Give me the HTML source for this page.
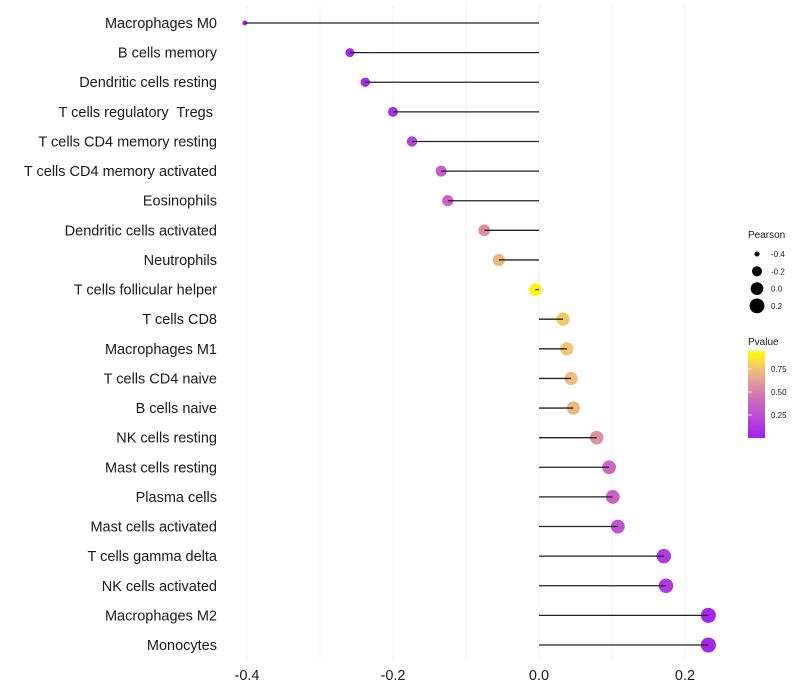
<!DOCTYPE html>
<html><head><meta charset="utf-8"><style>
body{margin:0;background:#fff;font-family:"Liberation Sans",sans-serif}
svg{display:block}
text{white-space:pre}
</style></head><body>
<svg id="chart" width="800" height="700">
<defs><linearGradient id="pg" x1="0" y1="1" x2="0" y2="0">
<stop offset="0" stop-color="#A020F0"/><stop offset="0.5" stop-color="#D477B8"/><stop offset="0.78" stop-color="#F0BE7A"/><stop offset="1" stop-color="#FFFF00"/>
</linearGradient></defs>
<g id="grid"></g><g id="marks"></g><g id="labels"></g>
<g id="legend">
<text x="748" y="238" font-size="10" fill="#1a1a1a">Pearson</text>
<g id="sizeleg"></g>
<text x="748" y="345" font-size="10" fill="#1a1a1a">Pvalue</text>
<rect x="748" y="351" width="17" height="87" fill="url(#pg)"/>
<g id="colleg"></g>
</g>
</svg>
<script>
const categories=["Macrophages M0","B cells memory","Dendritic cells resting","T cells regulatory  Tregs ","T cells CD4 memory resting","T cells CD4 memory activated","Eosinophils","Dendritic cells activated","Neutrophils","T cells follicular helper","T cells CD8","Macrophages M1","T cells CD4 naive","B cells naive","NK cells resting","Mast cells resting","Plasma cells","Mast cells activated","T cells gamma delta","NK cells activated","Macrophages M2","Monocytes"];
const pearson=[-0.403,-0.259,-0.238,-0.2,-0.174,-0.134,-0.125,-0.075,-0.055,-0.005,0.033,0.038,0.044,0.047,0.079,0.096,0.101,0.108,0.171,0.174,0.232,0.232];
const pvalue=[0.02,0.05,0.06,0.1,0.2,0.35,0.38,0.6,0.75,0.97,0.82,0.8,0.78,0.76,0.6,0.4,0.38,0.3,0.15,0.14,0.04,0.04];
const xTicks=[-0.4,-0.2,0.0,0.2];
const xTickLabels=["-0.4","-0.2","0.0","0.2"];
const sizeLegendVals=[-0.4,-0.2,0.0,0.2];
const colorLegendVals=[0.25,0.5,0.75];
const NS="http://www.w3.org/2000/svg";
const x=v=>539+v*730;
const y=i=>23+i*(645-23)/(categories.length-1);
const r=v=>1.5+7.5*Math.sqrt(Math.max(0,v+0.42));
const stops=[[0,[160,32,240]],[0.5,[212,119,184]],[0.78,[240,190,122]],[1,[255,255,0]]];
function col(p){for(let k=1;k<stops.length;k++){if(p<=stops[k][0]){const a=stops[k-1],b=stops[k],t=(p-a[0])/(b[0]-a[0]);return 'rgb('+a[1].map((c,j)=>Math.round(c+(b[1][j]-c)*t)).join(',')+')';}}return 'rgb(255,255,0)';}
const cy=p=>438-p*92;
function mk(t,at,parent){const e=document.createElementNS(NS,t);for(const k in at)e.setAttribute(k,at[k]);document.getElementById(parent).appendChild(e);return e;}
for(let v=-0.4;v<=0.2001;v+=0.1){
 const g=mk('line',{x1:x(v),x2:x(v),y1:5,y2:660,stroke:'#f0f0f0','stroke-width':1},'grid');
 
 
}
categories.forEach((c,i)=>{
 const t=mk('text',{x:217,y:y(i)+5,'text-anchor':'end','font-size':14.5,fill:'#1a1a1a'},'labels');t.textContent=c;
 
 
 const pt=mk('circle',{cx:x(pearson[i]),cy:y(i),r:r(pearson[i]),fill:col(pvalue[i])},'marks');
 
 
});
categories.forEach((c,i)=>{
 const l=mk('line',{x1:x(0),x2:x(pearson[i]),y1:y(i),y2:y(i),stroke:'#222','stroke-width':1.3},'marks');
 
 
});
xTicks.forEach((v,i)=>{
 const t=mk('text',{x:x(v),y:680,'text-anchor':'middle','font-size':14.5,fill:'#1a1a1a'},'labels');t.textContent=xTickLabels[i];
 
 
});
sizeLegendVals.forEach((v,i)=>{
 const yy=254+i*17.3;
 const c=mk('circle',{cx:757,cy:yy,r:r(v),fill:'#000'},'sizeleg');
 
 
 const t=mk('text',{x:771,y:yy+3,'font-size':8,fill:'#1a1a1a'},'sizeleg');t.textContent=v.toFixed(1);
 
 
});
colorLegendVals.forEach(v=>{
 const t=mk('text',{x:771,y:cy(v)+3,'font-size':8,fill:'#1a1a1a'},'colleg');t.textContent=v.toFixed(2);
 
 
 const tk=mk('line',{x1:748,x2:752,y1:cy(v),y2:cy(v),stroke:'#fff','stroke-width':0.8},'colleg');
 
 
});
</script>
</body></html>
